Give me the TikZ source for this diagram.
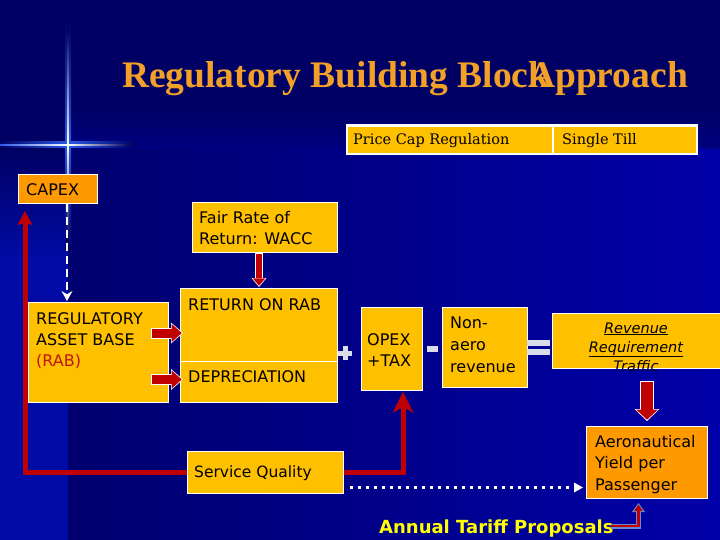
\documentclass[tikz,border=0pt]{standalone}
\usepackage{fontspec}
\setmainfont{DejaVu Sans}
\newfontfamily\titlefont{Liberation Serif}
\newfontfamily\tabfont{DejaVu Serif}
\usetikzlibrary{arrows.meta,calc}
\definecolor{navy}{RGB}{0,0,100}
\definecolor{brightblue}{RGB}{0,0,168}
\definecolor{stripblue}{RGB}{0,12,165}
\definecolor{boxyellow}{RGB}{255,192,0}
\definecolor{boxorange}{RGB}{255,153,0}
\definecolor{titleorange}{RGB}{242,160,40}
\definecolor{arrowred}{RGB}{192,0,0}
\definecolor{rabred}{RGB}{190,20,20}
\definecolor{symgray}{RGB}{215,220,232}
\definecolor{atpyellow}{RGB}{255,255,0}
\definecolor{lblue}{RGB}{100,140,205}
\definecolor{glowblue}{RGB}{40,90,230}
\newcommand{\mlines}[1]{\begin{tabular}[t]{@{}l@{}}#1\end{tabular}}
\newcommand{\mlinesc}[1]{\begin{tabular}[t]{@{}c@{}}#1\end{tabular}}
\begin{document}
\begin{tikzpicture}[x=1pt,y=-1pt,
  ybox/.style={draw=white, line width=1pt, fill=boxyellow, inner sep=0pt, anchor=north west},
  obox/.style={ybox, fill=boxorange},
  cell/.style={fill=boxyellow, inner sep=0pt, anchor=north west, minimum height=26pt},
  txt/.style={inner sep=0pt, anchor=base west, text=black, font=\fontsize{16}{21}\selectfont},
  tabtxt/.style={inner sep=0pt, anchor=base west, text=black, font=\tabfont\fontsize{14.5}{17}\selectfont},
  ttl/.style={inner sep=0pt, anchor=base west, text=titleorange, font=\titlefont\bfseries\fontsize{37.5}{41}\selectfont},
  redline/.style={draw=arrowred, line width=5pt},
]
\useasboundingbox (0,0) rectangle (720,540);
% background
\fill[navy] (0,0) rectangle (720,540);
\shade[top color=navy, bottom color={rgb,255:red,0;green,0;blue,130}] (68,110) rectangle (720,150);
\shade[left color={rgb,255:red,0;green,0;blue,110}, right color=brightblue] (68,150) rectangle (720,540);
\shade[top color=navy, bottom color=stripblue] (0,150) rectangle (68,260);
\fill[stripblue] (0,260) rectangle (68,540);
% glowing cross
\shade[top color=navy, bottom color=glowblue] (65,20) rectangle (71,145);
\shade[top color=glowblue, bottom color=navy] (65,145) rectangle (71,250);
\shade[left color=navy, right color=glowblue] (0,142) rectangle (68,148);
\shade[left color=glowblue, right color=navy] (68,142) rectangle (135,148);
\shade[top color=navy, bottom color=white] (67.2,30) rectangle (68.8,145);
\shade[top color=white, bottom color=navy] (67.2,145) rectangle (68.8,240);
\shade[left color=glowblue, right color=white] (0,144.2) rectangle (68,145.8);
\shade[left color=white, right color=navy] (68,144.2) rectangle (130,145.8);
% title
\node[ttl] (title1) at (122,88) {Regulatory Building Block};
\node[ttl] (title2) at (528,88) {Approach};
% table
\node[fill=white, inner sep=0pt, anchor=north west, minimum width=352pt, minimum height=31pt] (tab) at (346,124) {};
\node[cell, minimum width=204pt] (pc) at (348,126.5) {};
\node[cell, minimum width=142pt] (st) at (554,126.5) {};
\node[tabtxt] (pct) at (353,145) {Price Cap Regulation};
\node[tabtxt] (stt) at (562,145) {Single Till};
% boxes
\node[obox, minimum width=79pt, minimum height=29pt] (capex) at (18,174) {};
\node[ybox, minimum width=145pt, minimum height=50pt] (fair) at (192,202) {};
\node[ybox, minimum width=140pt, minimum height=100pt] (rab) at (28,302) {};
\node[ybox, minimum width=157pt, minimum height=73pt] (ret) at (180,288) {};
\node[ybox, minimum width=157pt, minimum height=41pt] (dep) at (180,361) {};
\node[ybox, minimum width=61pt, minimum height=83pt] (opex) at (361,307) {};
\node[ybox, minimum width=85pt, minimum height=80pt] (nonaero) at (442,307) {};
\node[ybox, minimum width=170pt, minimum height=55pt] (rev) at (552,313) {};
\node[obox, minimum width=121pt, minimum height=72pt] (aero) at (586,426) {};
\node[ybox, minimum width=156pt, minimum height=42pt] (sq) at (187,451) {};
% texts
\node[txt] (capext) at (26,196) {CAPEX};
\node[txt] (fairt) at (199,223) {\mlines{Fair Rate of\\Return: WACC}};
\node[txt] (rabt) at (36,324) {\mlines{REGULATORY\\ASSET BASE\\\textcolor{rabred}{(RAB)}}};
\node[txt] (rett) at (188,310) {RETURN ON RAB};
\node[txt] (dept) at (188,382) {DEPRECIATION};
\node[txt] (opext) at (367,345) {\mlines{OPEX\\+TAX}};
\node[txt, font=\fontsize{16}{22}\selectfont] (nonaerot) at (450,328) {\mlines{Non-\\aero\\revenue}};
\node[inner sep=0pt, anchor=base, text=black, font=\itshape\fontsize{14.5}{19}\selectfont] (revt) at (636,333) {\mlinesc{\underline{Revenue}\\\underline{Requirement}\\Traffic}};
\node[txt, font=\fontsize{16}{21.5}\selectfont] (aerot) at (595,447) {\mlines{Aeronautical\\Yield per\\Passenger}};
\node[txt, font=\fontsize{15.5}{20}\selectfont] (sqt) at (194,477) {Service Quality};
\node[inner sep=0pt, anchor=base west, text=atpyellow, font=\bfseries\fontsize{18}{22}\selectfont] (atp) at (379,533) {Annual Tariff Proposals};
% operator signs
\fill[symgray] (338,350.5) rectangle (352,355.5);
\fill[symgray] (342.5,346) rectangle (347.5,360);
\fill[symgray] (427,346) rectangle (438,352);
\fill[symgray] (527,340) rectangle (550,345.5);
\fill[symgray] (527,349) rectangle (550,355);
% connectors
\draw[white, line width=2.5pt, dash pattern=on 8pt off 5pt, -{Stealth[length=10pt,width=11pt,line width=0pt]}]
  ($(capex.south west)+(49,0)$) -- ($(rab.north west)+(39,-1)$);
\draw[redline, -{Stealth[length=14pt,width=15pt,inset=2pt,line width=0pt]}, shorten >=7pt]
  (sq.west) -| ($(capex.south west)+(7,0)$);
\draw[redline, -{Stealth[length=21pt,width=21pt,inset=6pt,line width=0pt]}]
  (sq.east) -| ($(opex.south west)+(42,1)$);
% block arrows RAB -> return / depreciation
\draw[white, line width=11pt, -{Triangle[length=12pt,width=21pt,line width=0pt]}]
  ($(rab.east)+(-18,-19.5)$) -- ($(ret.west)+(3,8)$);
\draw[arrowred, line width=9pt, -{Triangle[length=10pt,width=18pt,line width=0pt]}, shorten >=1.3pt, shorten <=1pt]
  ($(rab.east)+(-18,-19.5)$) -- ($(ret.west)+(3,8)$);
\draw[white, line width=11pt, -{Triangle[length=12pt,width=21pt,line width=0pt]}]
  ($(rab.east)+(-18,27)$) -- ($(dep.west)+(3,-2.5)$);
\draw[arrowred, line width=9pt, -{Triangle[length=10pt,width=18pt,line width=0pt]}, shorten >=1.3pt, shorten <=1pt]
  ($(rab.east)+(-18,27)$) -- ($(dep.west)+(3,-2.5)$);
% fair rate -> return
\draw[white, line width=8pt, -{Triangle[length=9pt,width=15pt,line width=0pt]}]
  (fair.south -| ret.north) -- ($(ret.north)+(0,-1)$);
\draw[arrowred, line width=6pt, -{Triangle[length=7.5pt,width=12.5pt,line width=0pt]}, shorten >=1.2pt, shorten <=1pt]
  (fair.south -| ret.north) -- ($(ret.north)+(0,-1)$);
% revenue -> aero
\draw[white, line width=14pt, -{Triangle[length=12pt,width=25pt,line width=0pt]}]
  ($(rev.south -| aero.north)+(0,12)$) -- ($(aero.north)+(0,-5)$);
\draw[arrowred, line width=12pt, -{Triangle[length=10pt,width=21.5pt,line width=0pt]}, shorten >=1.3pt, shorten <=1pt]
  ($(rev.south -| aero.north)+(0,12)$) -- ($(aero.north)+(0,-5)$);
% dotted
\draw[white, line width=3pt, dash pattern=on 3pt off 5pt, -{Triangle[length=9pt,width=10pt,line width=0pt]}]
  ($(sq.east)+(6,15)$) -- ($(aero.west)+(-3,25)$);
% small L arrow
\draw[lblue, line width=5pt, -{Triangle[length=9pt,width=13pt,line width=0pt]}]
  ($(atp.base east)+(-3,-7)$) -| ($(aero.south)+(-8.5,4)$);
\draw[arrowred, line width=2.5pt, -{Triangle[length=6.5pt,width=8.5pt,line width=0pt]}, shorten >=1.5pt]
  ($(atp.base east)+(-3,-7)$) -| ($(aero.south)+(-8.5,4)$);
\end{tikzpicture}
\end{document}
